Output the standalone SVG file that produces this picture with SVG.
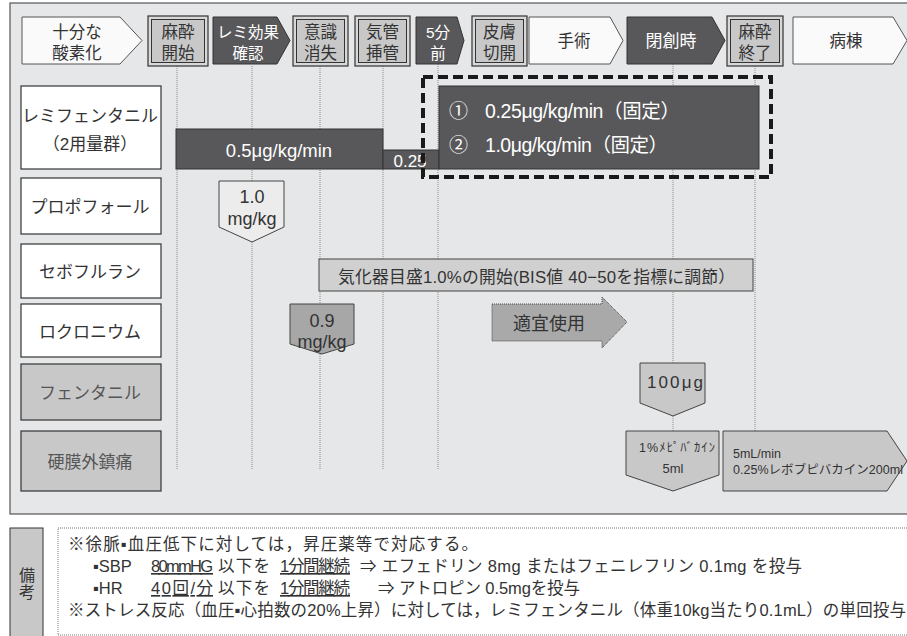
<svg xmlns="http://www.w3.org/2000/svg" width="907" height="636" viewBox="0 0 907 636">
<style>
text{font-family:"Liberation Sans","Noto Sans CJK JP",sans-serif;fill:#333}
.h{font-size:16.5px;text-anchor:middle}
.hw{font-size:15.5px;text-anchor:middle;fill:#fff}
.lab{font-size:17px;text-anchor:middle}
.lg{fill:#555}
.wbox{fill:#fff;stroke:#333;stroke-width:1.2}
.gbox{fill:#c8c8c9;stroke:#333;stroke-width:1.2}
.dark{fill:#58585a;stroke:#333;stroke-width:1}
.light{fill:#fafafa;stroke:#555;stroke-width:1}
.vl{stroke:#8a8a8a;stroke-width:1;stroke-dasharray:1 1;fill:none}
.outer{fill:#d8d8d8;stroke:#333;stroke-width:1.2}
.inner{fill:#c8c8c9;stroke:#333;stroke-width:1}
.wt{fill:#fff}
.note{font-size:16.5px}
.mid{text-anchor:middle}
.u{text-decoration:underline}
</style>
<rect x="10" y="3" width="910" height="511" fill="#e6e7e8" stroke="#555" stroke-width="1.2"/>

<g id="connectors">
<line class="vl" x1="177" y1="66" x2="177" y2="470"/>
<line class="vl" x1="252" y1="66" x2="252" y2="470"/>
<line class="vl" x1="320" y1="66" x2="320" y2="470"/>
<line class="vl" x1="383" y1="66" x2="383" y2="470"/>
<line class="vl" x1="438" y1="64" x2="438" y2="470"/>
<line class="vl" x1="673" y1="64" x2="673" y2="431"/>
<line class="vl" x1="755" y1="66" x2="755" y2="431"/>
</g>

<!-- header -->
<g id="h-oxygen"><path class="light" d="M22 17H120L142 40.5L120 64H22Z"/><text class="h" x="77" y="38">十分な</text><text class="h" x="77" y="59">酸素化</text></g>
<g id="h-start"><rect class="outer" x="148" y="16" width="60" height="50"/><rect class="inner" x="151.5" y="19.5" width="53" height="43"/><text class="h" x="178" y="38">麻酔</text><text class="h" x="178" y="59">開始</text></g>
<g id="h-remi"><path class="dark" d="M213 17H277L290 40.5L277 64H213Z"/><text class="hw" x="248" y="38">レミ効果</text><text class="hw" x="248" y="59">確認</text></g>
<g id="h-loc"><rect class="outer" x="293" y="16" width="55" height="50"/><rect class="inner" x="296.5" y="19.5" width="48" height="43"/><text class="h" x="320.5" y="38">意識</text><text class="h" x="320.5" y="59">消失</text></g>
<g id="h-intub"><rect class="outer" x="355" y="16" width="55" height="50"/><rect class="inner" x="358.5" y="19.5" width="48" height="43"/><text class="h" x="382.5" y="38">気管</text><text class="h" x="382.5" y="59">挿管</text></g>
<g id="h-5min"><path class="dark" d="M416 17H457L464 40.5L457 64H416Z"/><text class="hw" x="438" y="38">5分</text><text class="hw" x="438" y="59">前</text></g>
<g id="h-incision"><rect class="outer" x="472" y="16" width="55" height="50"/><rect class="inner" x="475.5" y="19.5" width="48" height="43"/><text class="h" x="499.5" y="38">皮膚</text><text class="h" x="499.5" y="59">切開</text></g>
<g id="h-surgery"><path class="light" d="M529 17H610L623 40.5L610 64H529Z"/><text class="h" x="574" y="47">手術</text></g>
<g id="h-closure"><path class="dark" d="M627 17H712L725 40.5L712 64H627Z"/><text class="hw" x="671" y="47" style="font-size:17px">閉創時</text></g>
<g id="h-end"><rect class="outer" x="727" y="16" width="56" height="50"/><rect class="inner" x="730.5" y="19.5" width="49" height="43"/><text class="h" x="755" y="38">麻酔</text><text class="h" x="755" y="59">終了</text></g>
<g id="h-ward"><path class="light" d="M793 17H893L907 40.5L893 64H793Z"/><text class="h" x="846" y="47">病棟</text></g>

<!-- row labels -->
<g id="l-remi"><rect class="wbox" x="21" y="86" width="140" height="83"/><text class="lab" x="90" y="122">レミフェンタニル</text><text class="lab" x="90" y="150">（2用量群）</text></g>
<g id="l-propofol"><rect class="wbox" x="21" y="178" width="140" height="56"/><text class="lab" x="90" y="213">プロポフォール</text></g>
<g id="l-sevo"><rect class="wbox" x="21" y="244" width="140" height="54"/><text class="lab" x="90" y="278">セボフルラン</text></g>
<g id="l-rocu"><rect class="wbox" x="21" y="304" width="140" height="53"/><text class="lab" x="90" y="338">ロクロニウム</text></g>
<g id="l-fenta"><rect class="gbox" x="21" y="364" width="140" height="56"/><text class="lab lg" x="90" y="399">フェンタニル</text></g>
<g id="l-epi"><rect class="gbox" x="21" y="431" width="140" height="60"/><text class="lab lg" x="90" y="468">硬膜外鎮痛</text></g>

<!-- remifentanil -->
<g id="remi-05"><rect class="dark" x="176" y="129" width="207" height="40"/><text x="279" y="157" style="font-size:18.5px" class="wt mid">0.5μg/kg/min</text></g>
<g id="remi-025"><rect class="dark" x="383" y="150" width="56" height="19"/><text x="410" y="167" style="font-size:17px" class="wt mid">0.25</text></g>
<g id="remi-fixed"><rect class="dark" x="439" y="86" width="320" height="83"/>
<text x="449" y="118" style="font-size:19px" class="wt">①</text><text x="485" y="118" style="font-size:19.5px" class="wt" textLength="195">0.25μg/kg/min（固定）</text>
<text x="449" y="152" style="font-size:19px" class="wt">②</text><text x="485" y="152" style="font-size:19.5px" class="wt" textLength="183">1.0μg/kg/min（固定）</text>
<rect x="423" y="77" width="348" height="100" fill="none" stroke="#1a1a1a" stroke-width="4" stroke-dasharray="10 5"/></g>

<!-- propofol -->
<g id="propofol"><path d="M219 181H284V227L252 242L219 227Z" fill="#ececec" stroke="#444" stroke-width="1"/><text x="252" y="203" style="font-size:18px" class="mid">1.0</text><text x="252" y="225" style="font-size:18px" class="mid">mg/kg</text></g>

<!-- sevoflurane -->
<g id="sevo"><rect x="319" y="259" width="434" height="32" fill="#d0d0d1" stroke="#444" stroke-width="1"/><text x="338" y="283" style="font-size:16.8px" textLength="397">気化器目盛1.0%の開始(BIS値 40−50を指標に調節）</text></g>

<!-- rocuronium -->
<g id="rocu"><path d="M290 304H354V344L322 354L290 344Z" fill="#a7a7a8" stroke="#444" stroke-width="1"/><text x="322" y="327" style="font-size:18px" class="mid">0.9</text><text x="322" y="348" style="font-size:18px" class="mid">mg/kg</text></g>
<g id="rocu-prn"><path d="M492 304H602V297L627 322L602 348V341H492Z" fill="#a9a9aa" stroke="#444" stroke-width="1" stroke-dasharray="1 1"/><text x="549" y="330" style="font-size:18px" class="mid">適宜使用</text></g>

<!-- fentanyl -->
<g id="fenta"><path d="M640 363H705V403L673 416L640 403Z" fill="#c8c8c9" stroke="#444" stroke-width="1"/><text x="647" y="388" style="font-size:17px" textLength="56">100μg</text></g>

<!-- epidural -->
<g id="epi-mepi"><path d="M626 431H719V475L673 491L626 475Z" fill="#c8c8c9" stroke="#444" stroke-width="1"/><text x="639" y="452" style="font-size:12.5px" textLength="76">1%ﾒﾋﾟﾊﾞｶｲﾝ</text><text x="673" y="473" style="font-size:13px" class="mid">5ml</text></g>
<g id="epi-levo"><path d="M723 431H887L907 461L887 491H723Z" fill="#c8c8c9" stroke="#444" stroke-width="1"/><text x="733" y="458" style="font-size:12.5px">5mL/min</text><text x="733" y="474" style="font-size:12.5px" textLength="170">0.25%レボブピバカイン200ml</text></g>

<!-- notes -->
<g id="notes-label"><rect x="10" y="528" width="33" height="110" fill="#c8c8c9" stroke="#333" stroke-width="1"/><text class="mid" x="27" y="581" style="font-size:16px">備</text><text class="mid" x="27" y="598" style="font-size:16px">考</text></g>
<g id="notes"><rect x="58" y="528" width="860" height="107" fill="#fff" stroke="#777" stroke-width="1" stroke-dasharray="1 1"/>
<text class="note" x="68" y="550" textLength="410">※徐脈▪血圧低下に対しては，昇圧薬等で対応する。</text>
<text class="note" x="93" y="572">▪SBP</text>
<text class="note u" x="151" y="572" textLength="62">80mmHG</text>
<text class="note" x="218" y="572" textLength="52">以下を</text>
<text class="note u" x="280" y="572" textLength="70">1分間継続</text>
<text class="note" x="360" y="572" textLength="442">⇒ エフェドリン 8mg またはフェニレフリン 0.1mg を投与</text>
<text class="note" x="93" y="594">▪HR</text>
<text class="note u" x="151" y="594" textLength="62">40回/分</text>
<text class="note" x="218" y="594" textLength="52">以下を</text>
<text class="note u" x="280" y="594" textLength="70">1分間継続</text>
<text class="note" x="378" y="594" textLength="202">⇒ アトロピン 0.5mgを投与</text>
<text class="note" x="68" y="616" textLength="838">※ストレス反応（血圧▪心拍数の20%上昇）に対しては，レミフェンタニル（体重10kg当たり0.1mL）の単回投与</text>
</g>
</svg>
